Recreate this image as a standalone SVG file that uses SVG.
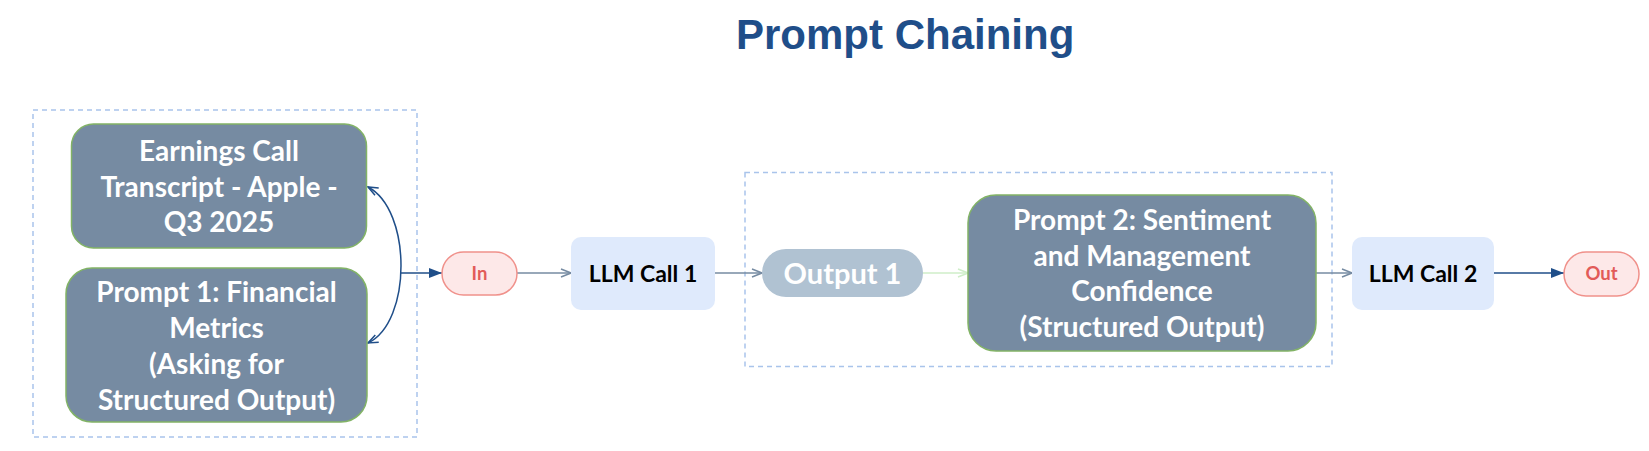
<svg xmlns="http://www.w3.org/2000/svg" width="1649" height="451" viewBox="0 0 1649 451">
  <style>
    .title { font-family: "Liberation Sans", Arial, sans-serif; font-weight: bold; font-size: 42px; fill: #1f4e89; }
    .container { fill: none; stroke: #a9c4eb; stroke-width: 1.5; stroke-dasharray: 5 4; }
    .slate { fill: #768ba2; stroke: #82b366; stroke-width: 1.5; }
    .llm { fill: #dfeafc; stroke: none; }
    .out1 { fill: #b0c2d2; stroke: none; }
    .term { fill: #fde8e8; stroke: #f0918b; stroke-width: 1.5; }
    .t { font-family: Lato, "Open Sans", sans-serif; font-weight: bold; text-anchor: middle; }
    .tw { fill: #ffffff; font-size: 28px; }
    .tk { fill: #000000; font-size: 23px; }
    .to { fill: #ffffff; font-size: 29px; }
    .tr { fill: #e25b58; font-size: 18.5px; }
    .edge { fill: none; stroke-width: 1.5; }
  </style>
  <defs>
    <marker id="openSlate" viewBox="0 0 12 10" refX="11" refY="5" markerWidth="12" markerHeight="10" markerUnits="userSpaceOnUse" orient="auto-start-reverse">
      <path d="M1,1 L11,5 L1,9" fill="none" stroke="#768ba2" stroke-width="1.5"/>
    </marker>
    <marker id="openGreen" viewBox="0 0 12 10" refX="11" refY="5" markerWidth="12" markerHeight="10" markerUnits="userSpaceOnUse" orient="auto-start-reverse">
      <path d="M1,1 L11,5 L1,9" fill="none" stroke="#cfeec9" stroke-width="1.5"/>
    </marker>
    <marker id="openBlue" viewBox="0 0 12 10" refX="11" refY="5" markerWidth="12" markerHeight="10" markerUnits="userSpaceOnUse" orient="auto-start-reverse">
      <path d="M1,1 L11,5 L1,9" fill="none" stroke="#1f4e89" stroke-width="1.5"/>
    </marker>
    <marker id="blockBlue" viewBox="0 0 13 10" refX="13" refY="5" markerWidth="13" markerHeight="10" markerUnits="userSpaceOnUse" orient="auto">
      <path d="M0,0 L13,5 L0,10 Z" fill="#1f4e89"/>
    </marker>
  </defs>

  <rect width="1649" height="451" fill="#ffffff"/>

  <text class="title" x="736" y="49">Prompt Chaining</text>

  <g id="containers">
    <rect class="container" x="33" y="110" width="384" height="327"/>
    <rect class="container" x="745" y="172.5" width="587" height="194"/>
  </g>

  <g id="connectors">
    <path class="edge" stroke="#1f4e89" d="M368,187 C412,210 412,322 368,343" marker-start="url(#openBlue)" marker-end="url(#openBlue)"/>
    <path class="edge" stroke="#1f4e89" d="M401,273 H442" marker-end="url(#blockBlue)"/>
    <path class="edge" stroke="#768ba2" d="M517,273 H571" marker-end="url(#openSlate)"/>
    <path class="edge" stroke="#768ba2" d="M715,273 H762" marker-end="url(#openSlate)"/>
    <path class="edge" stroke="#cfeec9" d="M923,273 H968" marker-end="url(#openGreen)"/>
    <path class="edge" stroke="#768ba2" d="M1316,273 H1352" marker-end="url(#openSlate)"/>
    <path class="edge" stroke="#1f4e89" d="M1494,273 H1564" marker-end="url(#blockBlue)"/>
  </g>

  <g id="transcript">
    <rect class="slate" x="71.5" y="124" width="295" height="124" rx="22"/>
    <text class="t tw" x="219" y="161">Earnings Call</text>
    <text class="t tw" x="219" y="196.5">Transcript - Apple -</text>
    <text class="t tw" x="219" y="232">Q3 2025</text>
  </g>

  <g id="prompt1">
    <rect class="slate" x="66" y="268" width="301" height="154" rx="26"/>
    <text class="t tw" x="216.5" y="302">Prompt 1: Financial</text>
    <text class="t tw" x="216.5" y="338">Metrics</text>
    <text class="t tw" x="216.5" y="374">(Asking for</text>
    <text class="t tw" x="216.5" y="410">Structured Output)</text>
  </g>

  <g id="in">
    <rect class="term" x="442" y="252" width="75" height="43" rx="21.5"/>
    <text class="t tr" x="479.5" y="280">In</text>
  </g>

  <g id="llm1">
    <rect class="llm" x="571" y="237" width="144" height="73" rx="10"/>
    <text class="t tk" x="643" y="282">LLM Call 1</text>
  </g>

  <g id="output1">
    <rect class="out1" x="762" y="249" width="161" height="48" rx="24"/>
    <text class="t to" x="842.5" y="284">Output 1</text>
  </g>

  <g id="prompt2">
    <rect class="slate" x="968" y="195" width="348" height="156" rx="28"/>
    <text class="t tw" x="1142" y="230">Prompt 2: Sentiment</text>
    <text class="t tw" x="1142" y="265.5">and Management</text>
    <text class="t tw" x="1142" y="301">Confidence</text>
    <text class="t tw" x="1142" y="336.5">(Structured Output)</text>
  </g>

  <g id="llm2">
    <rect class="llm" x="1352" y="237" width="142" height="73" rx="10"/>
    <text class="t tk" x="1423" y="282">LLM Call 2</text>
  </g>

  <g id="out">
    <rect class="term" x="1564" y="252" width="75" height="44" rx="22"/>
    <text class="t tr" x="1601.5" y="280">Out</text>
  </g>
</svg>
